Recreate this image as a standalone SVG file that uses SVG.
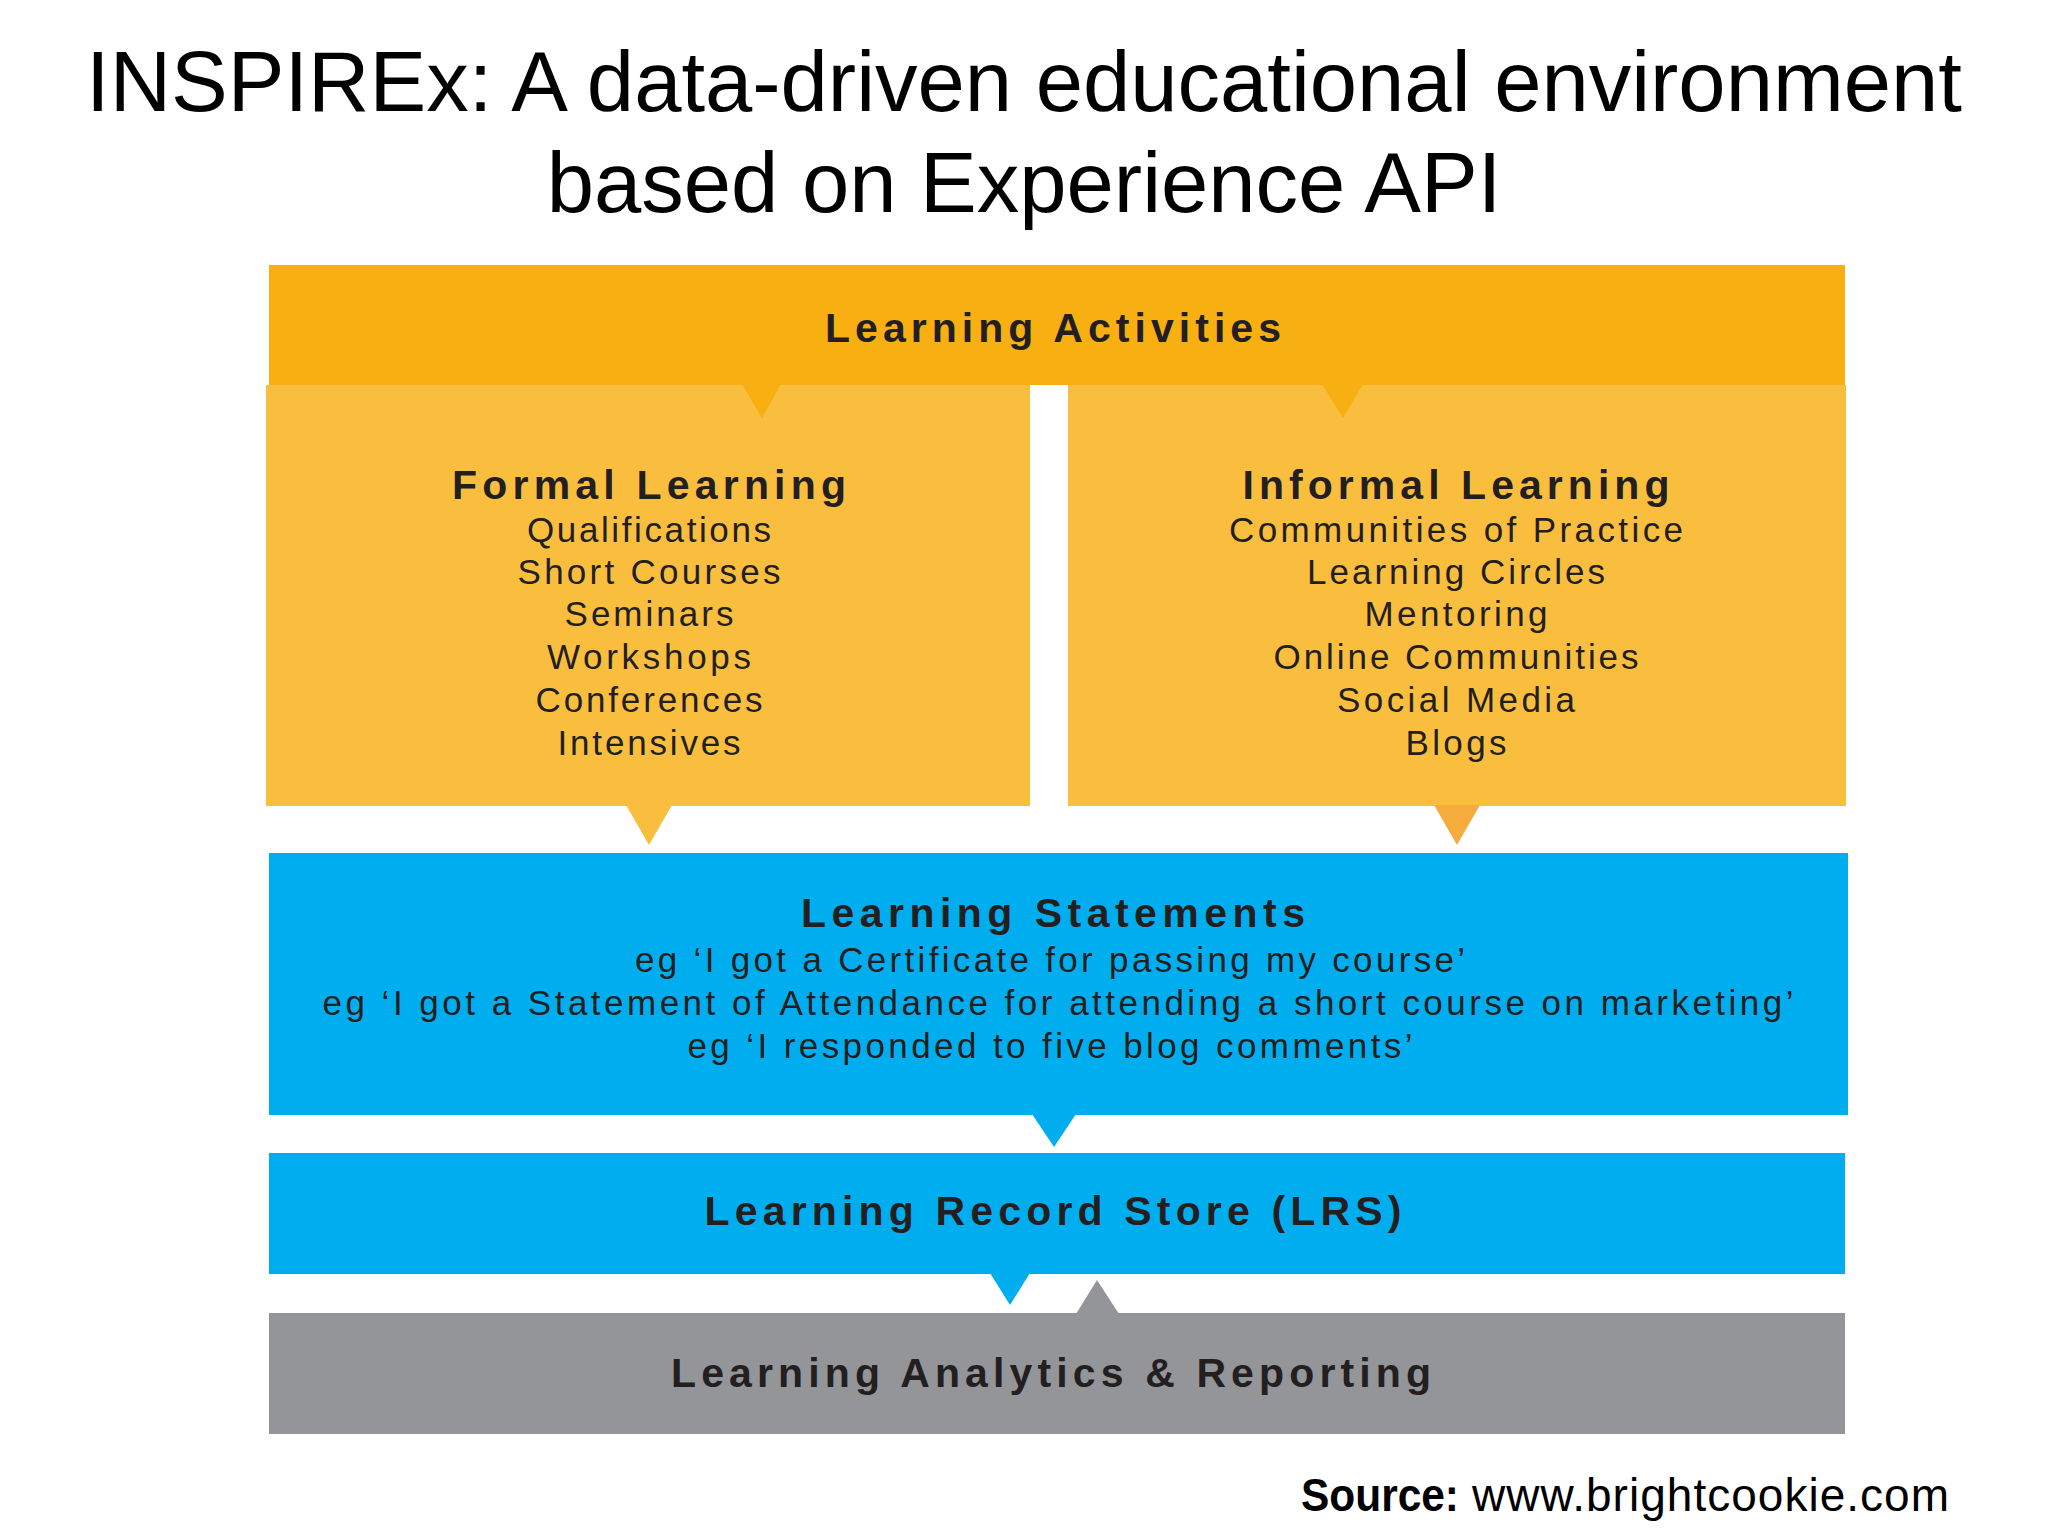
<svg xmlns="http://www.w3.org/2000/svg" width="2048" height="1536" viewBox="0 0 2048 1536">
<style>
.title{font-family:"Liberation Sans",Arial,sans-serif;font-size:85px;fill:#000;text-anchor:middle}
.hd{font-family:"Liberation Sans",Arial,sans-serif;font-size:41px;font-weight:bold;fill:#231F20;text-anchor:middle}
.it{font-family:"Liberation Sans",Arial,sans-serif;font-size:35px;fill:#231F20;text-anchor:middle}
.src{font-family:"Liberation Sans",Arial,sans-serif;font-size:46px;fill:#000}
.dark{fill:#F7AF12}
.light{fill:#F9BE3E}
.blue{fill:#00AEEF}
.gray{fill:#939598}
</style>
<rect width="2048" height="1536" fill="#fff"/>
<g id="title">
<text class="title" x="1024" y="111">INSPIREx: A data-driven educational environment</text>
<text class="title" x="1024" y="212">based on Experience API</text>
</g>
<g id="learning-activities">
<rect class="dark" x="269" y="265" width="1576" height="120"/>
<text class="hd" x="1053" y="342" textLength="456" lengthAdjust="spacing">Learning Activities</text>
</g>
<g id="formal-learning">
<rect class="light" x="266" y="385" width="764" height="421"/>
<text class="hd" x="649" y="499" textLength="394" lengthAdjust="spacing">Formal Learning</text>
<text class="it" x="649" y="542" textLength="244" lengthAdjust="spacing">Qualifications</text>
<text class="it" x="649" y="584" textLength="263" lengthAdjust="spacing">Short Courses</text>
<text class="it" x="649" y="626" textLength="169" lengthAdjust="spacing">Seminars</text>
<text class="it" x="649" y="669" textLength="204" lengthAdjust="spacing">Workshops</text>
<text class="it" x="649" y="712" textLength="227" lengthAdjust="spacing">Conferences</text>
<text class="it" x="649" y="755" textLength="183" lengthAdjust="spacing">Intensives</text>
</g>
<g id="informal-learning">
<rect class="light" x="1068" y="385" width="778" height="421"/>
<text class="hd" x="1456" y="499" textLength="427" lengthAdjust="spacing">Informal Learning</text>
<text class="it" x="1456" y="542" textLength="454" lengthAdjust="spacing">Communities of Practice</text>
<text class="it" x="1456" y="584" textLength="298" lengthAdjust="spacing">Learning Circles</text>
<text class="it" x="1456" y="626" textLength="183" lengthAdjust="spacing">Mentoring</text>
<text class="it" x="1456" y="669" textLength="365" lengthAdjust="spacing">Online Communities</text>
<text class="it" x="1456" y="712" textLength="238" lengthAdjust="spacing">Social Media</text>
<text class="it" x="1456" y="755" textLength="101" lengthAdjust="spacing">Blogs</text>
</g>
<g id="learning-statements">
<rect class="blue" x="269" y="853" width="1579" height="262"/>
<text class="hd" x="1053" y="927" textLength="504" lengthAdjust="spacing">Learning Statements</text>
<text class="it" x="1050" y="972" textLength="830" lengthAdjust="spacing">eg ‘I got a Certificate for passing my course’</text>
<text class="it" x="1058" y="1015" textLength="1471" lengthAdjust="spacing">eg ‘I got a Statement of Attendance for attending a short course on marketing’</text>
<text class="it" x="1050" y="1058" textLength="725" lengthAdjust="spacing">eg ‘I responded to five blog comments’</text>
</g>
<g id="lrs">
<rect class="blue" x="269" y="1153" width="1576" height="121"/>
<text class="hd" x="1053" y="1225" textLength="697" lengthAdjust="spacing">Learning Record Store (LRS)</text>
</g>
<g id="analytics">
<rect class="gray" x="269" y="1313" width="1576" height="121"/>
<text class="hd" x="1051" y="1387" textLength="760" lengthAdjust="spacing">Learning Analytics &amp; Reporting</text>
</g>
<g id="connectors">
<polygon class="dark" points="742,384 781,384 762,418"/>
<polygon class="dark" points="1322,384 1363,384 1343,418"/>
<polygon class="light" points="626,805 672,805 649,845"/>
<polygon fill="#F6AC3C" points="1434,805 1480,805 1457,845"/>
<polygon class="blue" points="1032,1114 1076,1114 1054,1147"/>
<polygon class="blue" points="990,1273 1030,1273 1010,1305"/>
<polygon class="gray" points="1076,1314 1119,1314 1097,1280"/>
</g>
<g id="source">
<text class="src" x="1301" y="1511" font-weight="bold" textLength="158" lengthAdjust="spacingAndGlyphs">Source:</text>
<text class="src" x="1472" y="1511" textLength="477" lengthAdjust="spacing">www.brightcookie.com</text>
</g>
</svg>
